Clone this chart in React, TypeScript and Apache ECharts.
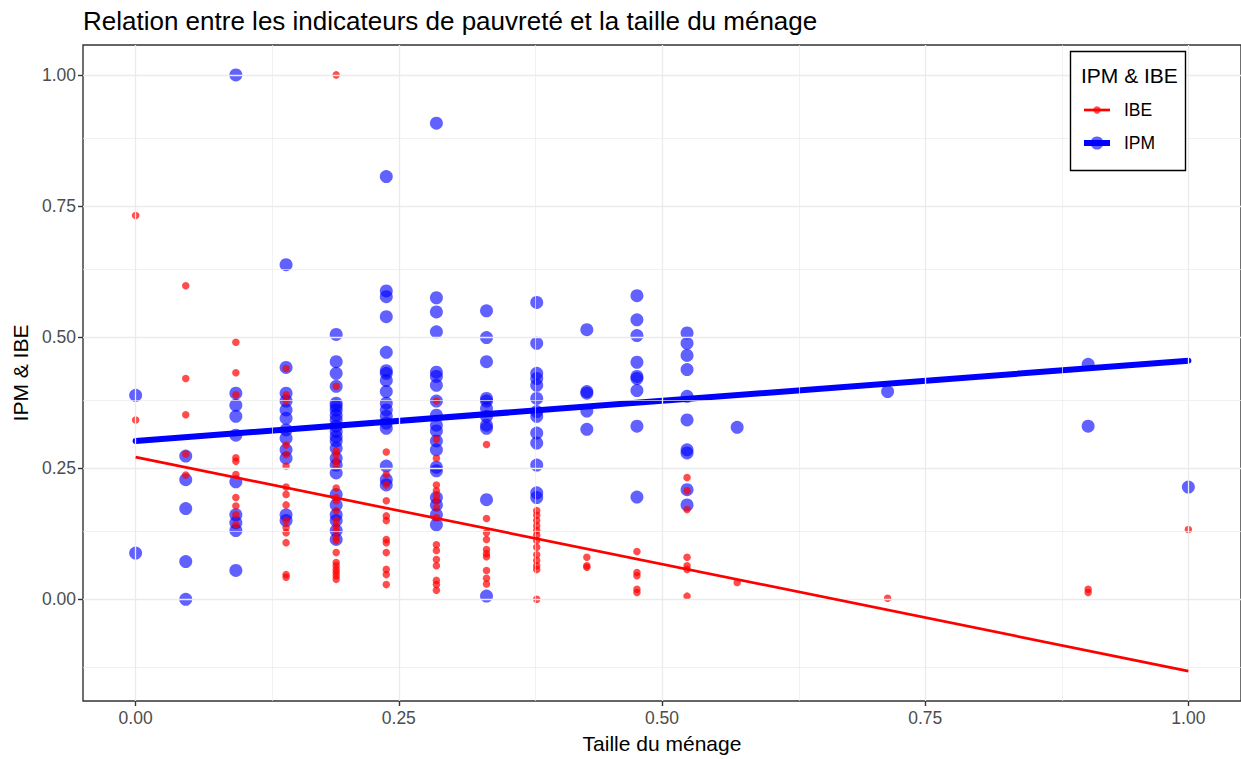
import React, { useEffect, useRef } from "react";
import * as echarts from "echarts";

// Household size (normalised) levels: k/21
const householdSize = [0, 0.0476, 0.0952, 0.1429, 0.1905, 0.2381, 0.2857, 0.3333, 0.381, 0.4286, 0.4762, 0.5238, 0.5714, 0.7143, 0.9048, 1.0];

// IPM values per household-size level
const ipmValues: number[][] = [
  [0.389, 0.088],
  [0.273, 0.228, 0.173, 0.072, 0.0],
  [1.0, 0.393, 0.37, 0.349, 0.313, 0.224, 0.161, 0.146, 0.131, 0.055],
  [0.638, 0.442, 0.393, 0.378, 0.361, 0.345, 0.323, 0.307, 0.285, 0.269, 0.161, 0.15],
  [0.505, 0.453, 0.431, 0.406, 0.374, 0.368, 0.361, 0.351, 0.342, 0.33, 0.32, 0.31, 0.302, 0.288, 0.269, 0.256, 0.241, 0.2, 0.18, 0.161, 0.15, 0.131, 0.114],
  [0.806, 0.588, 0.577, 0.539, 0.471, 0.436, 0.431, 0.417, 0.396, 0.374, 0.361, 0.349, 0.336, 0.326, 0.254, 0.228, 0.218],
  [0.908, 0.575, 0.548, 0.51, 0.433, 0.425, 0.408, 0.378, 0.351, 0.332, 0.321, 0.302, 0.285, 0.252, 0.245, 0.194, 0.18, 0.161, 0.142],
  [0.55, 0.499, 0.453, 0.383, 0.378, 0.364, 0.349, 0.332, 0.326, 0.19, 0.006],
  [0.566, 0.488, 0.431, 0.421, 0.408, 0.383, 0.358, 0.349, 0.317, 0.298, 0.256, 0.203, 0.194],
  [0.514, 0.396, 0.393, 0.359, 0.324],
  [0.579, 0.533, 0.503, 0.452, 0.425, 0.421, 0.398, 0.33, 0.195],
  [0.508, 0.488, 0.465, 0.438, 0.387, 0.342, 0.285, 0.279, 0.209, 0.18],
  [0.328],
  [0.396],
  [0.448, 0.33],
  [0.214],
];

// IBE values per household-size level
const ibeValues: number[][] = [
  [0.732, 0.342],
  [0.598, 0.421, 0.352, 0.277, 0.237],
  [0.49, 0.432, 0.39, 0.27, 0.263, 0.238, 0.194, 0.178, 0.161, 0.142],
  [0.44, 0.39, 0.378, 0.294, 0.276, 0.254, 0.214, 0.2, 0.18, 0.15, 0.137, 0.127, 0.108, 0.047, 0.042],
  [1.0, 0.406, 0.283, 0.276, 0.264, 0.256, 0.212, 0.194, 0.188, 0.169, 0.15, 0.14, 0.131, 0.118, 0.112, 0.089, 0.07, 0.064, 0.057, 0.051, 0.045, 0.038],
  [0.281, 0.238, 0.218, 0.188, 0.159, 0.15, 0.114, 0.108, 0.089, 0.057, 0.047, 0.028],
  [0.378, 0.305, 0.269, 0.218, 0.207, 0.197, 0.188, 0.175, 0.156, 0.104, 0.093, 0.076, 0.064, 0.036, 0.028, 0.017],
  [0.295, 0.154, 0.127, 0.114, 0.095, 0.087, 0.081, 0.055, 0.04, 0.029],
  [0.169, 0.16, 0.15, 0.14, 0.131, 0.122, 0.112, 0.099, 0.085, 0.074, 0.064, 0.057, 0.0],
  [0.08, 0.064, 0.061],
  [0.091, 0.051, 0.045, 0.019, 0.013],
  [0.232, 0.207, 0.171, 0.08, 0.064, 0.057, 0.006],
  [0.032],
  [0.002],
  [0.019, 0.013],
  [0.133],
];

// Linear fits (values at x = 0 and x = 1)
const fitX = [0, 1];
const ipmFit = [0.302, 0.455];
const ibeFit = [0.271, -0.137];

const xTicks = [0, 0.25, 0.5, 0.75, 1];
const yTicks = [0, 0.25, 0.5, 0.75, 1];
const xMinor = [0.125, 0.375, 0.625, 0.875];
const yMinor = [-0.125, 0.125, 0.375, 0.625, 0.875];

const FONT = "'Liberation Sans', Arial, sans-serif";

function toPairs(values: number[][]): number[][] {
  const out: number[][] = [];
  householdSize.forEach((x, i) => {
    values[i].forEach((y) => out.push([x, y]));
  });
  return out;
}

export default function App() {
  const ref = useRef<HTMLDivElement>(null);

  useEffect(() => {
    if (!ref.current) return;
    const chart = echarts.init(ref.current, undefined, { renderer: "svg" });

    const gridLines = [
      ...xTicks.map((v) => ({ xAxis: v, lineStyle: { width: 1.3 } })),
      ...xMinor.map((v) => ({ xAxis: v, lineStyle: { width: 0.7 } })),
      ...yTicks.map((v) => ({ yAxis: v, lineStyle: { width: 1.3 } })),
      ...yMinor.map((v) => ({ yAxis: v, lineStyle: { width: 0.7 } })),
    ];

    const Z = 100;
    const option: any = {
      animation: false,
      backgroundColor: "#ffffff",
      textStyle: { fontFamily: FONT },
      title: {
        text: "Relation entre les indicateurs de pauvreté et la taille du ménage",
        left: 83,
        top: 8,
        padding: 0,
        textStyle: { fontSize: 26, fontWeight: "normal", color: "#000", fontFamily: FONT },
      },
      grid: {
        left: 83,
        right: -3,
        top: 45,
        bottom: 55,
        show: true,
        borderColor: "#333333",
        borderWidth: 1.4,
        backgroundColor: "transparent",
        containLabel: false,
      },
      xAxis: {
        type: "value",
        min: -0.05,
        max: 1.05,
        name: "Taille du ménage",
        nameLocation: "middle",
        nameGap: 32,
        nameTextStyle: { fontSize: 21, color: "#000", fontFamily: FONT },
        axisLine: { show: false, onZero: false },
        axisTick: { show: true, customValues: xTicks, length: 5, lineStyle: { color: "#333", width: 1.4 } },
        axisLabel: {
          customValues: xTicks,
          formatter: (v: number) => v.toFixed(2),
          fontSize: 17.5,
          color: "#4D4D4D",
          margin: 8,
          fontFamily: FONT,
        },
        splitLine: { show: false },
      },
      yAxis: {
        type: "value",
        min: -0.194,
        max: 1.057,
        name: "IPM & IBE",
        nameLocation: "middle",
        nameGap: 43,
        nameRotate: 90,
        nameTextStyle: { fontSize: 21, color: "#000", fontFamily: FONT },
        axisLine: { show: false, onZero: false },
        axisTick: { show: true, customValues: yTicks, length: 5, lineStyle: { color: "#333", width: 1.4 } },
        axisLabel: {
          customValues: yTicks,
          formatter: (v: number) => v.toFixed(2),
          fontSize: 17.5,
          color: "#4D4D4D",
          margin: 7,
          fontFamily: FONT,
        },
        splitLine: { show: false },
      },
      series: [
        {
          name: "grid",
          type: "line",
          data: [],
          silent: true,
          z: 0,
          markLine: {
            silent: true,
            symbol: ["none", "none"],
            symbolSize: 0,
            label: { show: false },
            emphasis: { disabled: true },
            lineStyle: { color: "#EBEBEB", type: "solid" },
            data: gridLines,
          },
        },
        {
          name: "IPM",
          type: "scatter",
          data: toPairs(ipmValues),
          symbolSize: 13,
          itemStyle: { color: "#0000FF", opacity: 0.62 },
          z: 2,
        },
        {
          name: "IPM fit",
          type: "line",
          data: fitX.map((x, i) => [x, ipmFit[i]]),
          showSymbol: false,
          symbol: "none",
          lineStyle: { color: "#0000FF", width: 6, cap: "round" },
          z: 3,
        },
        {
          name: "IBE",
          type: "scatter",
          data: toPairs(ibeValues),
          symbolSize: 7.5,
          itemStyle: { color: "#FF0000", opacity: 0.7 },
          z: 4,
        },
        {
          name: "IBE fit",
          type: "line",
          data: fitX.map((x, i) => [x, ibeFit[i]]),
          showSymbol: false,
          symbol: "none",
          lineStyle: { color: "#FF0000", width: 2.7 },
          z: 5,
        },
      ],
      graphic: [
        {
          type: "rect",
          z: Z,
          shape: { x: 1070.5, y: 51.5, width: 115, height: 119 },
          style: { fill: "#ffffff", stroke: "#000000", lineWidth: 1.4 },
        },
        {
          type: "text",
          z: Z + 1,
          x: 1081,
          y: 75,
          style: { text: "IPM & IBE", fontSize: 21, fontFamily: FONT, fill: "#000", verticalAlign: "middle" },
        },
        {
          type: "line",
          z: Z + 1,
          shape: { x1: 1084, y1: 110, x2: 1110, y2: 110 },
          style: { stroke: "#FF0000", lineWidth: 2.7 },
        },
        {
          type: "circle",
          z: Z + 2,
          shape: { cx: 1097, cy: 110, r: 3.7 },
          style: { fill: "rgba(255,0,0,0.7)" },
        },
        {
          type: "text",
          z: Z + 1,
          x: 1124,
          y: 110,
          style: { text: "IBE", fontSize: 17.5, fontFamily: FONT, fill: "#000", verticalAlign: "middle" },
        },
        {
          type: "line",
          z: Z + 1,
          shape: { x1: 1084, y1: 143, x2: 1110, y2: 143 },
          style: { stroke: "#0000FF", lineWidth: 6 },
        },
        {
          type: "circle",
          z: Z + 2,
          shape: { cx: 1097, cy: 143, r: 6.5 },
          style: { fill: "rgba(0,0,255,0.62)" },
        },
        {
          type: "text",
          z: Z + 1,
          x: 1124,
          y: 143,
          style: { text: "IPM", fontSize: 17.5, fontFamily: FONT, fill: "#000", verticalAlign: "middle" },
        },
      ],
    };

    chart.setOption(option);
    return () => chart.dispose();
  }, []);

  return (
    <div
      ref={ref}
      style={{ position: "absolute", left: 0, top: 0, width: 1241, height: 759, background: "#fff" }}
    />
  );
}
